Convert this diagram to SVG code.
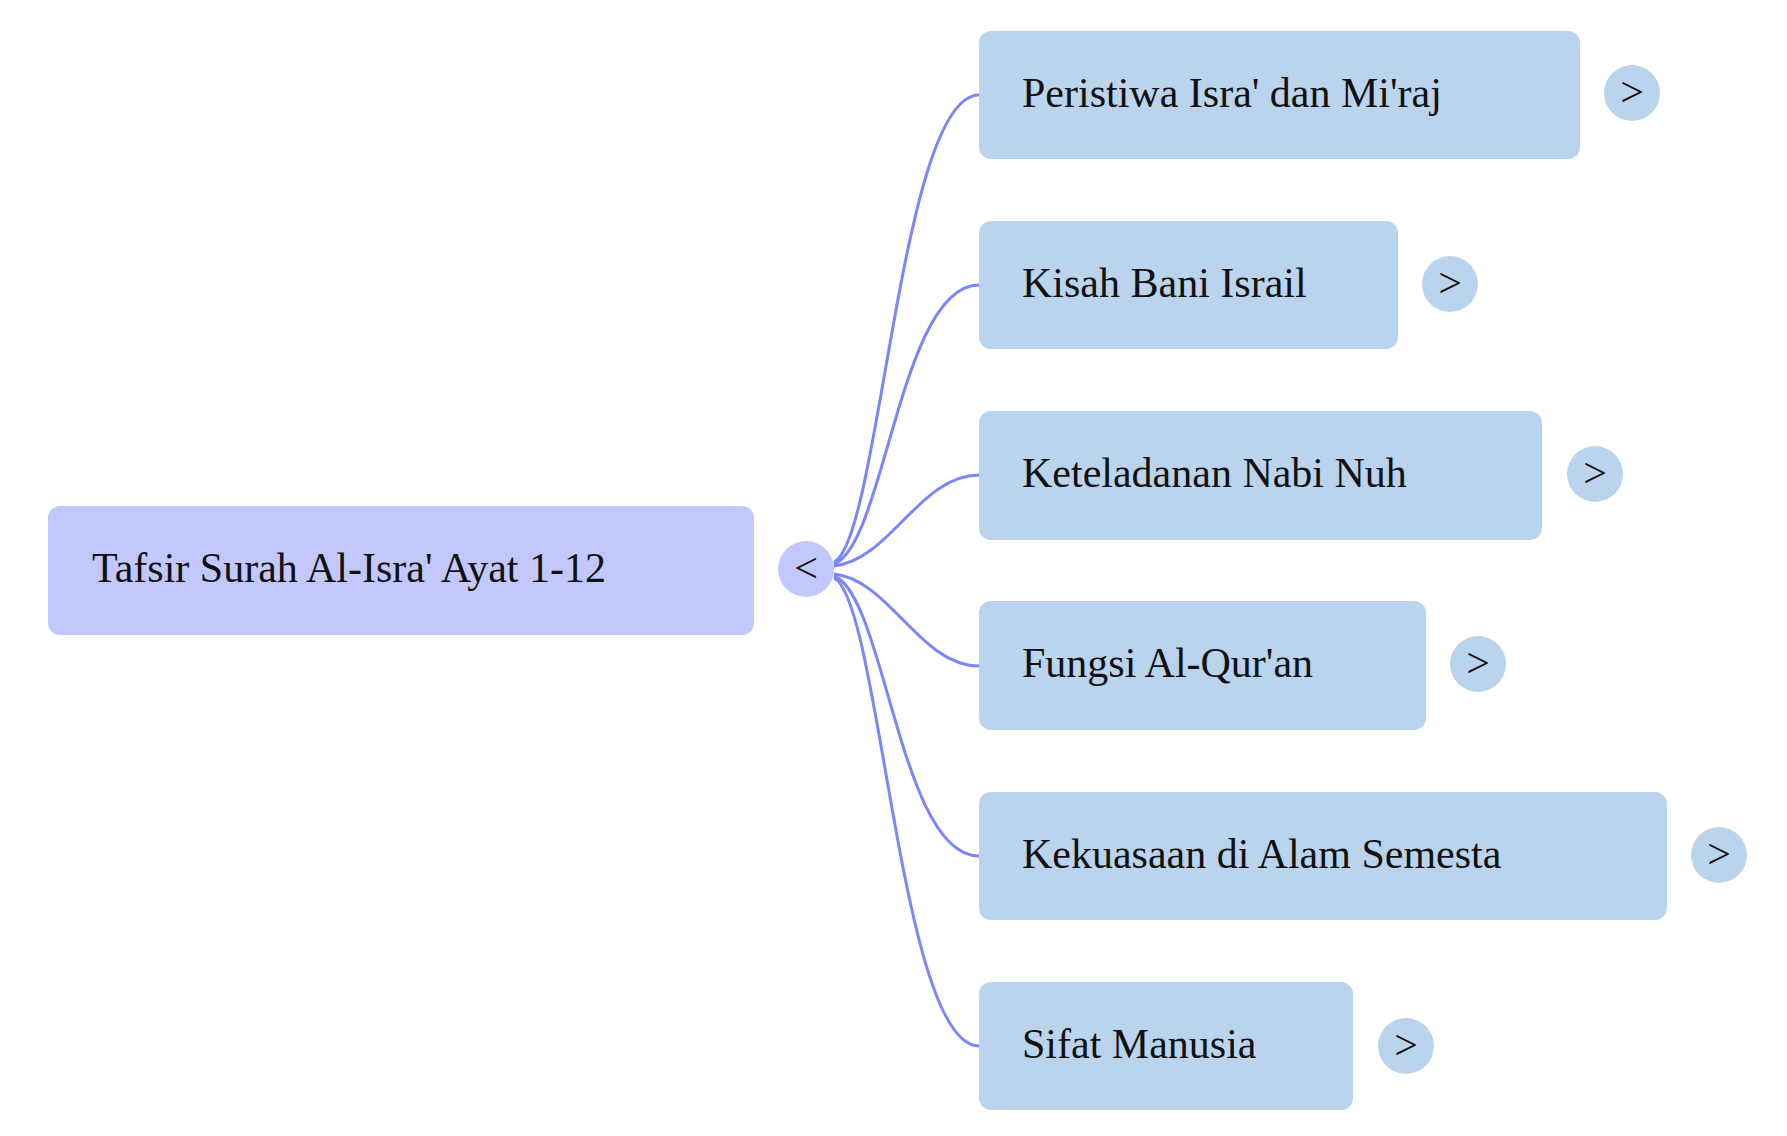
<svg xmlns="http://www.w3.org/2000/svg" width="1787" height="1136" viewBox="0 0 1787 1136">
<style>
.t{font-family:"Liberation Serif","Times New Roman",serif;font-size:42px;fill:#111}
.c{fill:#bbd4ee}
.e{fill:none;stroke:#7b86f7;stroke-width:3}
</style>
<rect width="1787" height="1136" fill="#fff"/>
<g id="edges">
<path class="e" d="M834 562 C880 540 900 95 979 95"/>
<path class="e" d="M834 564 C885 545 900 285 979 285"/>
<path class="e" d="M834 566 C890 560 920 475 979 475"/>
<path class="e" d="M834 574 C890 580 920 666 979 666"/>
<path class="e" d="M834 576 C885 595 900 856 979 856"/>
<path class="e" d="M834 578 C880 600 900 1046 979 1046"/>
</g>
<g id="root">
<rect x="48" y="506" width="706" height="129" rx="12" fill="#c2c8fd"/>
<text class="t" x="92" y="582">Tafsir Surah Al-Isra' Ayat 1-12</text>
<circle cx="806" cy="569" r="28" fill="#c2c8fd"/>
<text class="t" x="806" y="582" text-anchor="middle">&lt;</text>
</g>
<g id="n1"><rect class="c" x="979" y="31" width="601" height="128" rx="12"/><text class="t" x="1022" y="107">Peristiwa Isra' dan Mi'raj</text><circle class="c" cx="1632" cy="93" r="28"/><text class="t" x="1632" y="106" text-anchor="middle">&gt;</text></g>
<g id="n2"><rect class="c" x="979" y="221" width="419" height="128" rx="12"/><text class="t" x="1022" y="297">Kisah Bani Israil</text><circle class="c" cx="1450" cy="284" r="28"/><text class="t" x="1450" y="297" text-anchor="middle">&gt;</text></g>
<g id="n3"><rect class="c" x="979" y="411" width="563" height="129" rx="12"/><text class="t" x="1022" y="487">Keteladanan Nabi Nuh</text><circle class="c" cx="1595" cy="474" r="28"/><text class="t" x="1595" y="487" text-anchor="middle">&gt;</text></g>
<g id="n4"><rect class="c" x="979" y="601" width="447" height="129" rx="12"/><text class="t" x="1022" y="677">Fungsi Al-Qur'an</text><circle class="c" cx="1478" cy="664" r="28"/><text class="t" x="1478" y="677" text-anchor="middle">&gt;</text></g>
<g id="n5"><rect class="c" x="979" y="792" width="688" height="128" rx="12"/><text class="t" x="1022" y="868">Kekuasaan di Alam Semesta</text><circle class="c" cx="1719" cy="855" r="28"/><text class="t" x="1719" y="868" text-anchor="middle">&gt;</text></g>
<g id="n6"><rect class="c" x="979" y="982" width="374" height="128" rx="12"/><text class="t" x="1022" y="1058">Sifat Manusia</text><circle class="c" cx="1406" cy="1046" r="28"/><text class="t" x="1406" y="1059" text-anchor="middle">&gt;</text></g>
</svg>
